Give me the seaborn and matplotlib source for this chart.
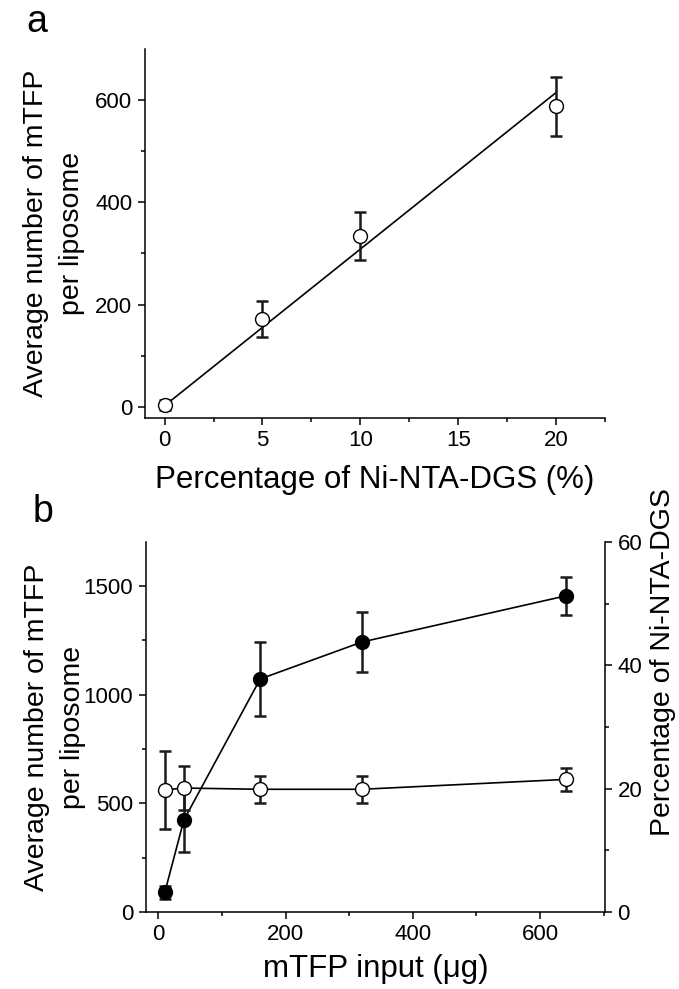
import numpy as np
import pandas as pd
import matplotlib
matplotlib.use("Agg")
import matplotlib.pyplot as plt
from matplotlib.ticker import MultipleLocator
import seaborn as sns

# ---- data: panel a ----
a_x = [0, 5, 10, 20]
a_y = [4, 173, 334, 587]
a_err = [10, 35, 46, 57]
a_fit_x = [0, 20]
a_fit_y = [3, 614]

# ---- data: panel b ----
b_x = [10, 40, 160, 320, 640]
b_num = [90, 423, 1072, 1242, 1454]
b_num_err = [30, 146, 170, 139, 87]
b_pct = [19.8, 20.1, 19.9, 19.9, 21.5]
b_pct_err = [6.3, 3.6, 2.2, 2.2, 1.9]

sns.set_theme(style="ticks")
plt.rcParams['font.family'] = ['Liberation Sans', 'DejaVu Sans']
plt.rcParams['text.color'] = 'black'
plt.rcParams['axes.labelcolor'] = 'black'

W, H = 679, 989
fig = plt.figure(figsize=(W / 100, H / 100), dpi=100)

def frac(left, top, right, bottom):
    return [left / W, 1 - bottom / H, (right - left) / W, (bottom - top) / H]

TICK_FS = 16
XLAB_FS = 22.5
YLAB_FS = 20.5
lw_line = 1.2
ms = 10

def style_axis(ax):
    ax.tick_params(which='major', direction='out', length=5, width=1.1,
                   labelsize=TICK_FS, color='black', labelcolor='black', pad=4)
    ax.tick_params(which='minor', direction='out', length=3, width=1.1, color='black')
    for s in ax.spines.values():
        s.set_linewidth(1.1)
        s.set_color('black')

# ---------------- panel a ----------------
axa = fig.add_axes(frac(145, 49, 605, 418))
sns.lineplot(x=a_fit_x, y=a_fit_y, ax=axa, color='black', lw=lw_line, zorder=2)
axa.errorbar(a_x, a_y, yerr=a_err, fmt='none', ecolor='#1a1a1a', elinewidth=1.8,
             capsize=4, capthick=1.8, zorder=3)
sns.scatterplot(x=a_x, y=a_y, ax=axa, marker='o', s=ms**2, facecolor='white',
                edgecolor='black', linewidth=1.0, zorder=4)
axa.set_xlim(-1, 22.5)
axa.set_ylim(-21, 699)
axa.xaxis.set_major_locator(MultipleLocator(5))
axa.xaxis.set_minor_locator(MultipleLocator(2.5))
axa.yaxis.set_major_locator(MultipleLocator(200))
axa.yaxis.set_minor_locator(MultipleLocator(100))
sns.despine(ax=axa)
style_axis(axa)
axa.set_xlabel('Percentage of Ni-NTA-DGS (%)', fontsize=XLAB_FS, labelpad=10)
axa.set_ylabel('Average number of mTFP\nper liposome', fontsize=YLAB_FS,
               linespacing=1.5)
axa.yaxis.set_label_coords(-0.13, 0.5)
fig.text(37 / W, 1 - 22 / H, 'a', fontsize=27, ha='center', va='center')

# ---------------- panel b ----------------
axb = fig.add_axes(frac(145.7, 542, 605, 912))
axr = axb.twinx()
sns.lineplot(x=b_x, y=b_num, ax=axb, color='black', lw=lw_line, zorder=2)
axb.errorbar(b_x, b_num, yerr=b_num_err, fmt='none', ecolor='#1a1a1a', elinewidth=1.8,
             capsize=4, capthick=1.8, zorder=3)
sns.scatterplot(x=b_x, y=b_num, ax=axb, marker='o', s=ms**2, color='black',
                edgecolor='black', linewidth=1.0, zorder=4)

sns.lineplot(x=b_x, y=b_pct, ax=axr, color='black', lw=lw_line, zorder=2)
axr.errorbar(b_x, b_pct, yerr=b_pct_err, fmt='none', ecolor='#1a1a1a', elinewidth=1.8,
             capsize=4, capthick=1.8, zorder=3)
sns.scatterplot(x=b_x, y=b_pct, ax=axr, marker='o', s=ms**2, facecolor='white',
                edgecolor='black', linewidth=1.0, zorder=4)

axb.set_xlim(-20, 702)
axb.set_ylim(0, 1702)
axr.set_ylim(0, 60)
axb.xaxis.set_major_locator(MultipleLocator(200))
axb.xaxis.set_minor_locator(MultipleLocator(100))
axb.yaxis.set_major_locator(MultipleLocator(500))
axb.yaxis.set_minor_locator(MultipleLocator(250))
axr.yaxis.set_major_locator(MultipleLocator(20))
axr.yaxis.set_minor_locator(MultipleLocator(10))
for ax in (axb, axr):
    ax.spines['top'].set_visible(False)
    style_axis(ax)
axb.spines['right'].set_visible(False)
axr.spines['left'].set_visible(False)
axr.spines['bottom'].set_visible(False)
axb.set_xlabel('mTFP input (μg)', fontsize=XLAB_FS, labelpad=6)
axb.set_ylabel('Average number of mTFP\nper liposome', fontsize=YLAB_FS,
               linespacing=1.5)
axb.yaxis.set_label_coords(-0.13, 0.5)
axr.set_ylabel('Percentage of Ni-NTA-DGS', fontsize=YLAB_FS)
axr.yaxis.set_label_coords(1.098, 0.676)
fig.text(43 / W, 1 - 512 / H, 'b', fontsize=27, ha='center', va='center')

fig.savefig('out.png', dpi=100)
